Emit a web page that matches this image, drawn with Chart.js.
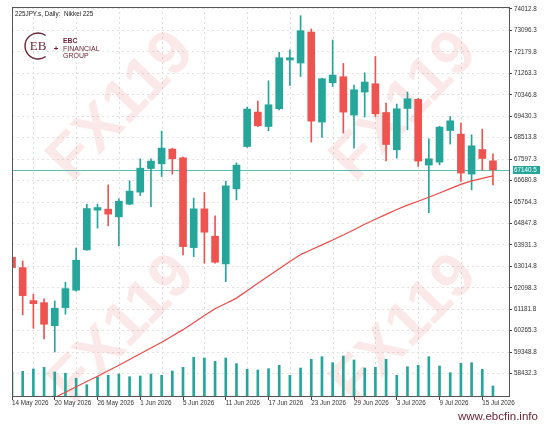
<!DOCTYPE html>
<html>
<head>
<meta charset="utf-8">
<script src="https://cdn.jsdelivr.net/npm/chart.js@4.4.1/dist/chart.umd.min.js"></script>
<style>
  body { margin: 0; background: #fff; }
  #wrap { width: 553px; height: 425px; }
</style>
</head>
<body>
<div id="wrap"><canvas id="priceChart"></canvas></div>
<script>
// Daily bars, 225JPY.s
const dates = [
  '14 May 2026', '15 May 2026', '18 May 2026', '19 May 2026', '20 May 2026', '21 May 2026',
  '22 May 2026', '25 May 2026', '26 May 2026', '27 May 2026', '28 May 2026', '29 May 2026',
  '1 Jun 2026', '2 Jun 2026', '3 Jun 2026', '4 Jun 2026', '5 Jun 2026', '8 Jun 2026',
  '9 Jun 2026', '10 Jun 2026', '11 Jun 2026', '12 Jun 2026', '15 Jun 2026', '16 Jun 2026',
  '17 Jun 2026', '18 Jun 2026', '19 Jun 2026', '22 Jun 2026', '23 Jun 2026', '24 Jun 2026',
  '25 Jun 2026', '26 Jun 2026', '29 Jun 2026', '30 Jun 2026', '1 Jul 2026', '2 Jul 2026',
  '3 Jul 2026', '6 Jul 2026', '7 Jul 2026', '8 Jul 2026', '9 Jul 2026', '10 Jul 2026',
  '13 Jul 2026', '14 Jul 2026', '15 Jul 2026', '16 Jul 2026'
];
const opens = [63406, 62961, 61550, 61464, 60480, 61250, 61995, 63718, 65416, 65458, 65130, 65673,
  66186, 67195, 67396, 68025, 67653, 63816, 65472, 64304, 63119, 66327, 68136, 69607, 68992, 69749,
  71831, 71703, 73029, 69180, 70861, 71117, 69479, 70463, 70818, 69590, 67995, 69762, 70150, 67341,
  67469, 68820, 68666, 66956, 68008, 67524];
const highs = [63450, 63248, 61823, 61622, 61537, 62337, 63791, 65673, 65673, 66498, 65900, 66669,
  67610, 67610, 68795, 68068, 67680, 65929, 66169, 65172, 66657, 67439, 69821, 70078, 70946, 72157,
  72272, 73726, 73157, 71060, 72687, 71686, 70762, 71288, 71985, 69992, 69950, 70463, 70190, 68466,
  69000, 69420, 69137, 68637, 68880, 67824];
const lows = [62920, 60938, 60369, 59912, 59356, 60968, 61950, 63700, 64646, 64745, 63889, 65650,
  66040, 65570, 66853, 66956, 63504, 63432, 63149, 63150, 62362, 65857, 68100, 68990, 68808, 69700,
  70745, 71130, 68324, 68521, 70702, 68709, 68068, 69394, 69420, 67524, 67640, 68850, 67281, 65313,
  67354, 68239, 66639, 66284, 67110, 66498];
const closes = [62961, 61764, 61421, 60540, 61225, 62063, 63278, 65485, 65527, 65245, 65801, 66229,
  67212, 67512, 68068, 67610, 63859, 65472, 64475, 63192, 66455, 67341, 69736, 69021, 69920, 71930,
  71930, 73085, 69222, 71032, 71190, 69607, 70561, 70891, 69535, 68222, 69749, 70176, 67512, 67610,
  68966, 69235, 67000, 68166, 67623, 67140.5];
const volumes = [24000, 24700, 27000, 28700, 24000, 22700, 17700, 11300, 19000, 20700, 22000, 19300,
  20000, 22000, 20700, 25000, 28700, 38700, 38000, 34700, 38000, 32300, 26700, 26000, 27300, 30700,
  20700, 28000, 36700, 39300, 33300, 40000, 36000, 28000, 28700, 36700, 20700, 29300, 30700, 39300,
  30000, 23300, 32700, 33300, 26700, 10000];
// moving average line
const ma = [56490, 56725, 56952, 57179, 57410, 57636, 57867, 58094, 58321, 58552, 58791, 59035,
  59279, 59527, 59771, 60040, 60310, 60600, 60913, 61199, 61426, 61657, 61973, 62290, 62606, 62914,
  63218, 63517, 63723, 63932, 64142, 64356, 64582, 64813, 65027, 65237, 65446, 65630, 65797, 65968,
  66148, 66336, 66520, 66665, 66772, 66879];
const yTicks = [74012.8, 73096.3, 72179.8, 71263.3, 70346.8, 69430.3, 68513.8, 67597.3, 66680.8,
  65764.3, 64847.8, 63931.3, 63014.8, 62098.3, 61181.8, 60265.3, 59348.8, 58432.3];
const lastPrice = 67140.5;

const UP = '#26a69a';
const DOWN = '#ef5350';
const BRAND = '#6b2436';
const tickFont = { family: 'Liberation Sans', size: 6.3 };

const candleColor = closes.map((c, i) => (c >= opens[i] ? UP : DOWN));
const idx = dates.map((d, i) => i);

function drawMark(ctx, cx, cy) {
  ctx.save();
  ctx.translate(cx, cy);
  ctx.rotate(-46 * Math.PI / 180);
  ctx.font = 'bold 62px "Liberation Sans"';
  ctx.textAlign = 'center';
  ctx.textBaseline = 'middle';
  ctx.fillStyle = 'rgba(225, 70, 70, 0.12)';
  ctx.fillText('FX119', 0, 0);
  ctx.restore();
}

const decor = {
  id: 'decor',
  beforeDatasetsDraw(chart) {
    const { ctx, chartArea: a, scales: { x, y } } = chart;
    ctx.save();
    // vertical grid, halfway between the date labels
    ctx.strokeStyle = '#dedede';
    ctx.lineWidth = 1;
    ctx.setLineDash([2, 3]);
    for (let i = 2; i < dates.length; i += 4) {
      const px = Math.round(x.getPixelForValue(i)) + 0.5;
      ctx.beginPath();
      ctx.moveTo(px, a.top);
      ctx.lineTo(px, a.bottom);
      ctx.stroke();
    }
    ctx.setLineDash([]);
    // watermarks
    [[122, 107], [405, 107], [123, 330], [405, 330]].forEach(p => drawMark(ctx, p[0], p[1]));
    // last price line
    const py = Math.round(y.getPixelForValue(lastPrice)) + 0.5;
    ctx.strokeStyle = '#5cbfb3';
    ctx.beginPath();
    ctx.moveTo(a.left, py);
    ctx.lineTo(a.right, py);
    ctx.stroke();
    ctx.restore();
  },
  afterDraw(chart) {
    const { ctx, chartArea: a, scales: { y } } = chart;
    ctx.save();
    // frame
    ctx.strokeStyle = '#555';
    ctx.lineWidth = 1;
    ctx.strokeRect(a.left + 0.5, a.top + 0.5, a.right - a.left, a.bottom - a.top);

    // title
    ctx.fillStyle = '#222';
    ctx.font = '6.3px "Liberation Sans"';
    ctx.textBaseline = 'middle';
    ctx.fillText('225JPY.s, Daily:  Nikkei 225', 15, 14);

    // logo
    ctx.strokeStyle = BRAND;
    ctx.fillStyle = BRAND;
    ctx.lineWidth = 1.4;
    ctx.beginPath();
    ctx.arc(38, 46, 13, 0.3 * Math.PI, 1.7 * Math.PI);
    ctx.stroke();
    ctx.font = '13px "Liberation Serif"';
    ctx.textAlign = 'center';
    ctx.fillText('EB', 38, 47);
    ctx.font = 'bold 8px "Liberation Sans"';
    ctx.fillText('+', 56, 49);
    ctx.textAlign = 'left';
    ctx.font = 'bold 6.8px "Liberation Sans"';
    ctx.fillText('EBC', 63, 41);
    ctx.font = '7px "Liberation Sans"';
    ctx.fillText('FINANCIAL', 63, 48.7);
    ctx.fillText('GROUP', 63, 56);

    // last price tag
    const py = Math.round(y.getPixelForValue(lastPrice));
    ctx.fillStyle = UP;
    ctx.fillRect(a.right + 4, py - 4, 27, 8);
    ctx.fillStyle = '#fff';
    ctx.font = '6.3px "Liberation Sans"';
    ctx.fillText(lastPrice.toFixed(1), a.right + 5, py + 0.5);

    // site
    ctx.fillStyle = BRAND;
    ctx.font = '11.5px "Liberation Sans"';
    ctx.fillText('www.ebcfin.info', 458, 417);
    ctx.restore();
  }
};

new Chart(document.getElementById('priceChart'), {
  type: 'bar',
  data: {
    datasets: [
      {
        type: 'line',
        label: 'MA',
        data: idx.map(i => ({ x: i, y: ma[i] })),
        borderColor: '#f04848',
        borderWidth: 1.2,
        pointRadius: 0,
        tension: 0,
        order: 0
      },
      {
        label: 'Body',
        data: idx.map(i => ({ x: i, y: [opens[i], closes[i]] })),
        backgroundColor: candleColor,
        barThickness: 7,
        grouped: false,
        order: 1
      },
      {
        label: 'Wick',
        data: idx.map(i => ({ x: i, y: [lows[i], highs[i]] })),
        backgroundColor: candleColor,
        barThickness: 1,
        grouped: false,
        order: 2
      },
      {
        label: 'Volume',
        data: idx.map(i => ({ x: i, y: volumes[i] })),
        backgroundColor: UP,
        barThickness: 2,
        grouped: false,
        yAxisID: 'yv',
        order: 3
      }
    ]
  },
  options: {
    responsive: true,
    maintainAspectRatio: false,
    animation: false,
    layout: { padding: { left: 12, top: 7, right: 0, bottom: 0 } },
    plugins: { legend: { display: false }, tooltip: { enabled: false } },
    scales: {
      x: {
        type: 'linear',
        offset: false,
        min: 0,
        max: 46.5,
        afterBuildTicks: s => { s.ticks = idx.filter(i => i % 4 === 0).map(i => ({ value: i })); },
        afterFit: s => { s.height = 29; },
        grid: { offset: false, drawOnChartArea: false, drawTicks: true, tickLength: 4, tickColor: '#444' },
        border: { display: false },
        ticks: {
          align: 'start',
          padding: -1,
          maxRotation: 0,
          autoSkip: false,
          color: '#333',
          font: tickFont,
          callback: v => dates[v]
        }
      },
      y: {
        position: 'right',
        min: 57474,
        max: 74098,
        afterBuildTicks: s => { s.ticks = yTicks.map(v => ({ value: v })); },
        afterFit: s => { s.width = 44; },
        grid: { color: '#e3e3e3', tickLength: 3, tickColor: '#444', tickBorderDash: [] },
        border: { display: false, dash: [2, 3] },
        ticks: {
          padding: 2,
          color: '#333',
          font: tickFont,
          callback: v => v.toFixed(1)
        }
      },
      yv: {
        display: false,
        min: 0,
        max: 389000
      }
    }
  },
  plugins: [decor]
});
</script>
</body>
</html>
